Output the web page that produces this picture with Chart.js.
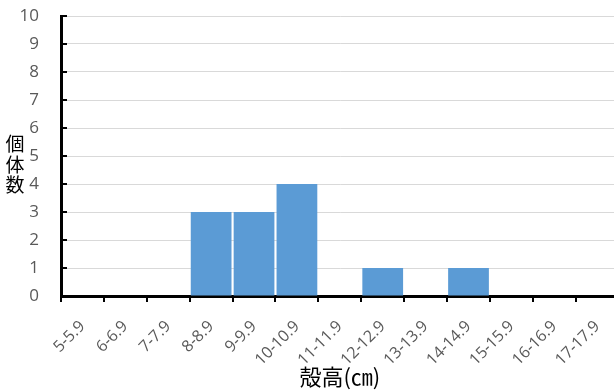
<!DOCTYPE html>
<html>
<head>
<meta charset="utf-8">
<script src="https://cdn.jsdelivr.net/npm/chart.js@4.4.1/dist/chart.umd.min.js"></script>
<style>
  body { margin: 0; overflow: hidden; background: #fff; }
  #wrap { position: relative; width: 626px; height: 392px; }
</style>
</head>
<body>
<div id="wrap"><canvas id="hist"></canvas></div>
<script>
// 殻高の階級と個体数
const classes = ['5-5.9', '6-6.9', '7-7.9', '8-8.9', '9-9.9', '10-10.9', '11-11.9',
                 '12-12.9', '13-13.9', '14-14.9', '15-15.9', '16-16.9', '17-17.9'];
const counts = [0, 0, 0, 3, 3, 4, 0, 1, 0, 1, 0, 0, 0];
const yMin = 0;
const yMax = 10;
const yTitle = ['個', '体', '数'];
const xTitle = '殻高(㎝)';

// 縦書きのy軸タイトルと内向きの目盛り
const extras = {
    id: 'extras',
    afterDraw(chart) {
        const c = chart.ctx;
        const y = chart.scales.y;
        const left = chart.chartArea.left;
        c.save();
        c.strokeStyle = '#000';
        c.lineWidth = 2;
        for (let v = yMin; v <= yMax; v++) {
            const py = Math.round(y.getPixelForValue(v));
            c.beginPath();
            c.moveTo(left, py);
            c.lineTo(left + 6, py);
            c.stroke();
        }
        c.fillStyle = '#000';
        c.font = '19px "Noto Sans CJK JP"';
        c.textAlign = 'center';
        c.textBaseline = 'middle';
        yTitle.forEach((ch, i) => c.fillText(ch, 15, 144 + i * 20.5));
        c.restore();
    }
};

const ctx = document.getElementById('hist').getContext('2d');
new Chart(ctx, {
    type: 'bar',
    data: {
        labels: classes,
        datasets: [{
            data: counts,
            backgroundColor: '#5B9BD5',
            barPercentage: 0.95,
            categoryPercentage: 1.0
        }]
    },
    options: {
        responsive: true,
        maintainAspectRatio: false,
        animation: false,
        layout: { padding: { top: 16, right: 6, left: 0, bottom: 0 } },
        plugins: { legend: { display: false }, tooltip: { enabled: false } },
        scales: {
            x: {
                afterFit: s => { s.height = 96; },
                border: { color: '#000', width: 3 },
                grid: { drawOnChartArea: false, drawTicks: true, tickLength: 6, tickColor: '#000', lineWidth: 2 },
                ticks: {
                    minRotation: 45, maxRotation: 45, padding: 15,
                    color: '#595959', font: { family: 'Open Sans', size: 16 }
                },
                title: {
                    display: true, text: xTitle, color: '#000',
                    font: { family: 'Noto Sans CJK JP', size: 22 },
                    padding: { top: 0, bottom: 2 }
                }
            },
            y: {
                min: yMin, max: yMax,
                afterFit: s => { s.width = 61; },
                border: { color: '#000', width: 3 },
                grid: { color: '#d9d9d9', lineWidth: 1, drawTicks: true, tickLength: 20, tickColor: 'rgba(0,0,0,0)' },
                ticks: {
                    stepSize: 1, padding: 2,
                    color: '#595959', font: { family: 'Open Sans', size: 17 }
                }
            }
        }
    },
    plugins: [extras]
});
</script>
</body>
</html>
